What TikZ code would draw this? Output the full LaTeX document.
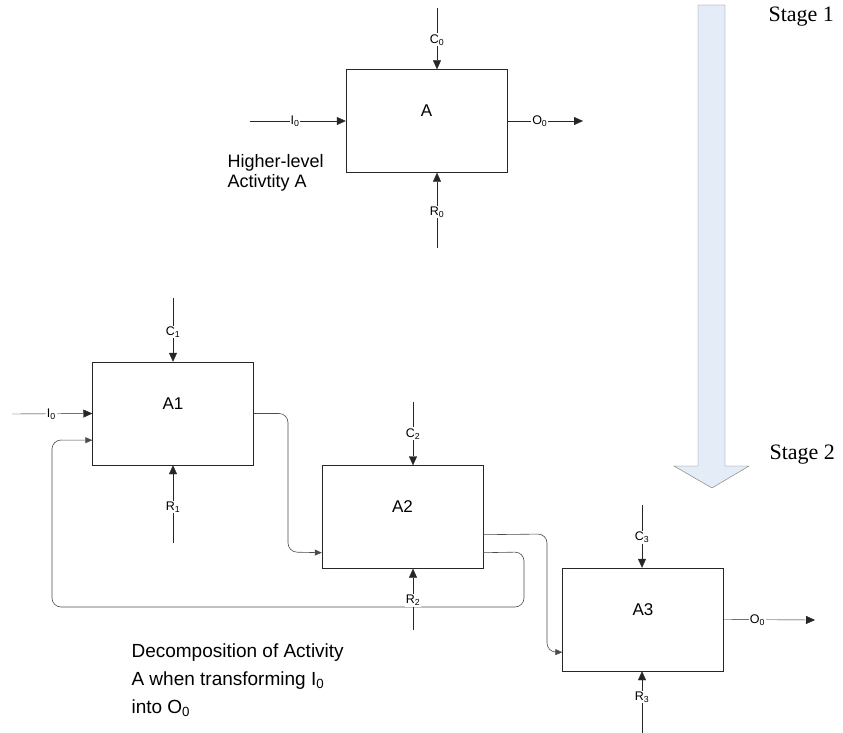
\documentclass[tikz,border=0pt]{standalone}
\usepackage{fontspec}
\setmainfont{Liberation Sans}
\newfontfamily\stagefont{Liberation Serif}
\usetikzlibrary{arrows.meta}
\definecolor{stagefill}{HTML}{E4ECF7}

\begin{document}
\begin{tikzpicture}[x=1pt,y=-1pt,
	act/.style={draw=black!85,minimum width=161pt,minimum height=103pt,inner sep=0pt},
	acttxt/.style={font=\fontsize{17}{19}\selectfont,yshift=10pt},
	flow/.style={draw=black!85,-{Triangle[length=9pt,width=8pt]}},
	route/.style={draw=black!70,line width=0.6pt,rounded corners=9pt,-{Triangle[length=7pt,width=6pt]}},
	lbl/.style={fill=white,inner sep=1pt,font=\fontsize{12.5}{13}\selectfont},
	stage/.style={anchor=west,font=\stagefont\fontsize{22}{24}\selectfont}]
	\useasboundingbox (0,0) rectangle (843,733);
	\draw[draw=black!55,fill=stagefill] (698,5) -- (725,5) -- (725,466) -- (749,466) -- (712,488) -- (674,466) -- (698,466) -- cycle;
	\node[stage] (st1) at (765,17) {Stage 1};
	\node[stage] (st2) at (766,455) {Stage 2};
	\node[act,label={[acttxt,name=Atxt]center:A}] (A) at (426.5,121) {};
	\node[act,label={[acttxt,name=A1txt]center:A1}] (A1) at (173,413.5) {};
	\node[act,label={[acttxt,name=A2txt]center:A2}] (A2) at (402.5,517) {};
	\node[act,label={[acttxt,name=A3txt]center:A3}] (A3) at (643,619.5) {};
	\draw[flow] (437,8) -- ([xshift=10.5pt]A.north) node[lbl,pos=0.52] (c0) {C\textsubscript{0}};
	\draw[flow] (437,248) -- ([xshift=10.5pt]A.south) node[lbl,pos=0.48] (r0) {R\textsubscript{0}};
	\draw[flow] (250,121) -- (A.west) node[lbl,pos=0.47] (i0) {I\textsubscript{0}};
	\draw[flow] (A.east) -- (583,121) node[lbl,pos=0.43] (o0) {O\textsubscript{0}};
	\draw[flow] (173,298) -- (A1.north) node[lbl,pos=0.53] (c1) {C\textsubscript{1}};
	\draw[flow] (173,543) -- (A1.south) node[lbl,pos=0.46] (r1) {R\textsubscript{1}};
	\draw[flow] (12,414) -- (A1.west) node[lbl,pos=0.49] (i1) {I\textsubscript{0}};
	\draw[flow] (413,402) -- ([xshift=10.5pt]A2.north) node[lbl,pos=0.5] (c2) {C\textsubscript{2}};
	\draw[flow] (642,505) -- ([xshift=-1pt]A3.north) node[lbl,pos=0.52] (c3) {C\textsubscript{3}};
	\draw[flow] (642,733) -- ([xshift=-1pt]A3.south) node[lbl,pos=0.58] (r3) {R\textsubscript{3}};
	\draw[flow] (A3.east) -- (815,620) node[lbl,pos=0.37] (o3) {O\textsubscript{0}};
	\draw[route] (A1.east) -- (288,413.5) -- (288,552) -- ([yshift=16pt]A2.south west);
	\draw[route] ([yshift=34pt]A2.south east) -- (547,534) -- (547,652) -- ([yshift=19pt]A3.south west);
	\draw[route] ([yshift=16pt]A2.south east) -- (524,552) -- (524,607) -- (52,607) -- (52,440) -- ([yshift=25pt]A1.south west);
	\draw[flow] (413,630) -- ([xshift=10.5pt]A2.south) node[lbl,pos=0.48] (r2) {R\textsubscript{2}};
	\node[anchor=west,align=left,font=\fontsize{18}{20.5}\selectfont] (hl) at (224,173) {Higher-level\\Activtity A};
	\node[anchor=west,align=left,font=\fontsize{19}{28}\selectfont] (dec) at (128,680) {Decomposition of Activity\\A when transforming I\textsubscript{0}\\into O\textsubscript{0}};
\end{tikzpicture}
\end{document}
